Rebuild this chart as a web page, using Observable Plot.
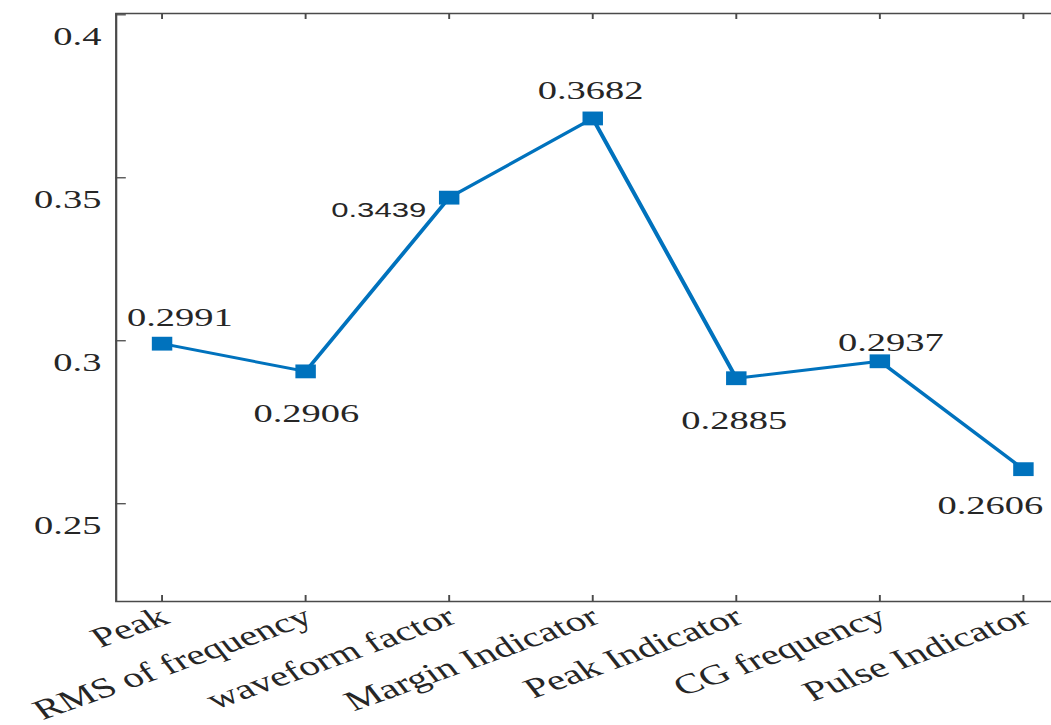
<!DOCTYPE html>
<html>
<head>
<meta charset="utf-8">
<script src="https://cdn.jsdelivr.net/npm/d3@7"></script>
<script src="https://cdn.jsdelivr.net/npm/@observablehq/plot@0.6"></script>
<style>
  html, body { margin: 0; padding: 0; background: #fff; overflow: hidden; }
  #chart svg { display: block; overflow: hidden; }
</style>
</head>
<body>
<div id="chart"></div>
<script>
// ---- data ----
const categories = ["Peak", "RMS of frequency", "waveform factor", "Margin Indicator", "Peak Indicator", "CG frequency", "Pulse Indicator"];
const values = [0.2991, 0.2906, 0.3439, 0.3682, 0.2885, 0.2937, 0.2606];
const valueLabels = ["0.2991", "0.2906", "0.3439", "0.3682", "0.2885", "0.2937", "0.2606"];
const yTicks = [0.25, 0.3, 0.35, 0.4];
const yTickLabels = ["0.25", "0.3", "0.35", "0.4"];

// ---- label placement (offsets relative to each point, px) ----
const labelDx = [12, 0.5, -15.5, -1.4, -1.4, 7.4, -22.3];
const labelDy = [-26.5, 42, 13, -28, 42.5, -18.5, 36.6];
const labelAnchor = ["middle", "middle", "end", "middle", "middle", "middle", "middle"];
const labelSans = [false, false, true, false, false, false, false];

// ---- layout ----
const outW = 1051, H = 725;
const stretch = 1.48;                 // the reference figure is stretched horizontally
const W = outW / stretch;
const mL = 78, mR = 0, mT = 13, mB = 124;
const plotW = W - mL - mR, plotH = H - mT - mB;
const serif = "'Liberation Serif', 'Times New Roman', serif";
const sans = "'Liberation Sans', Arial, sans-serif";
const ink = "#262626", axisColor = "#4a4a4a", blue = "#0072BD";

const data = categories.map((c, i) => ({cat: c, v: values[i], label: valueLabels[i], i}));

const labelMarks = data.map((d, i) => Plot.text([d], {
  x: "cat", y: "v", text: "label",
  dx: labelDx[i], dy: labelDy[i], textAnchor: labelAnchor[i],
  fontFamily: labelSans[i] ? sans : serif,
  fontSize: labelSans[i] ? 21 : 26,
  fill: ink
}));

const chart = Plot.plot({
  width: W, height: H,
  marginLeft: mL, marginRight: mR, marginTop: mT, marginBottom: mB,
  style: {background: "#fff"},
  x: {type: "point", domain: categories, padding: 0.2365, align: 0.623, axis: null},
  y: {domain: [0.22, 0.4004], axis: null},
  marks: [
    Plot.frame({stroke: axisColor, strokeWidth: 1.5, insetRight: -20}),
    // y ticks (inward)
    Plot.tickY(yTicks, {y: d => d, stroke: axisColor, strokeWidth: 1.3, insetRight: plotW - 7}),
    // x ticks bottom and top (inward)
    Plot.tickX(categories, {x: d => d, stroke: axisColor, strokeWidth: 1.3, insetTop: plotH - 6}),
    Plot.tickX(categories, {x: d => d, stroke: axisColor, strokeWidth: 1.3, insetBottom: plotH - 6}),
    // y tick labels
    Plot.text(yTicks, {y: d => d, frameAnchor: "left", text: (d, i) => yTickLabels[i],
      textAnchor: "end", dx: -10, dy: 21.5, fontFamily: serif, fontSize: 26, fill: ink}),
    // x tick labels
    Plot.text(categories, {x: d => d, frameAnchor: "bottom", text: d => d,
      rotate: -28, textAnchor: "end", lineAnchor: "middle", dy: 13, dx: 2,
      fontFamily: serif, fontSize: 28, fill: ink}),
    // line + markers
    Plot.line(data, {x: "cat", y: "v", stroke: blue, strokeWidth: 2.9}),
    Plot.dot(data, {x: "cat", y: "v", symbol: "square", r: 7.8, fill: blue, stroke: "none"}),
    ...labelMarks
  ]
});

chart.setAttribute("width", outW);
chart.setAttribute("height", H);
chart.setAttribute("viewBox", `0 0 ${W} ${H}`);
chart.setAttribute("preserveAspectRatio", "none");
chart.style.width = outW + "px";
chart.style.height = H + "px";
chart.style.maxWidth = "none";
document.getElementById("chart").appendChild(chart);
</script>
</body>
</html>
